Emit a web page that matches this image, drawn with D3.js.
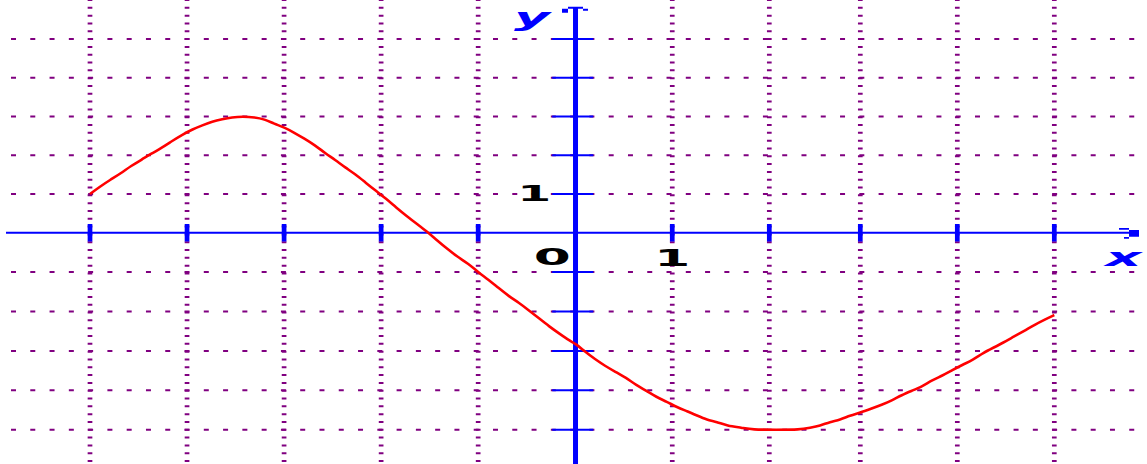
<!DOCTYPE html>
<html>
<head>
<meta charset="utf-8">
<script src="https://cdn.jsdelivr.net/npm/d3@7"></script>
<style>
  html, body { margin: 0; padding: 0; background: #fff; }
  svg { display: block; }
</style>
</head>
<body>
<svg id="chart" width="1147" height="464"></svg>
<script>
// ---- data ----
const gridX = [-5, -4, -3, -2, -1, 1, 2, 3, 4, 5];
const gridY = [-5, -4, -3, -2, -1, 1, 2, 3, 4, 5];
const xTickLabels = ["1"];
const xTickLabelValues = [1];
const yTickLabels = ["1"];
const yTickLabelValues = [1];
const originLabel = "0";
const axisNames = ["x", "y"];

const curveX = [-5.000, -4.897, -4.794, -4.684, -4.574, -4.471, -4.368, -4.261, -4.152, -4.049,
  -3.942, -3.843, -3.740, -3.637, -3.537, -3.428, -3.300, -3.204, -3.101, -2.998,
  -2.895, -2.792, -2.684, -2.575, -2.475, -2.369, -2.266, -2.159, -2.053, -1.950,
  -1.844, -1.741, -1.633, -1.527, -1.421, -1.318, -1.215, -1.105, -0.999, -0.896,
  -0.792, -0.685, -0.579, -0.473, -0.370, -0.267, -0.164, -0.054, 0.000, 0.101,
  0.204, 0.307, 0.413, 0.523, 0.630, 0.733, 0.836, 0.943, 1.049, 1.152,
  1.255, 1.358, 1.461, 1.564, 1.719, 1.822, 2.074, 2.337, 2.447, 2.557,
  2.667, 2.777, 2.887, 2.997, 3.110, 3.221, 3.324, 3.427, 3.533, 3.639,
  3.742, 3.845, 3.948, 4.056, 4.165, 4.268, 4.371, 4.474, 4.581, 4.691,
  4.794, 4.897, 5.000];
const curveY = [1.00, 1.19, 1.36, 1.53, 1.73, 1.88, 2.04, 2.19, 2.37, 2.53,
  2.67, 2.77, 2.87, 2.93, 2.98, 3.00, 2.98, 2.93, 2.81, 2.72,
  2.58, 2.43, 2.26, 2.05, 1.88, 1.68, 1.51, 1.29, 1.08, 0.88,
  0.65, 0.44, 0.23, 0.03, -0.20, -0.41, -0.61, -0.78, -1.00, -1.19,
  -1.40, -1.61, -1.78, -1.98, -2.18, -2.38, -2.56, -2.75, -2.81, -3.02,
  -3.21, -3.38, -3.53, -3.68, -3.87, -4.01, -4.17, -4.29, -4.43, -4.53,
  -4.64, -4.75, -4.80, -4.90, -4.95, -5.00, -5.00, -5.00, -4.95, -4.90,
  -4.80, -4.75, -4.64, -4.57, -4.47, -4.37, -4.26, -4.12, -4.01, -3.90,
  -3.74, -3.63, -3.49, -3.35, -3.22, -3.05, -2.92, -2.79, -2.64, -2.49,
  -2.34, -2.21, -2.09];

// ---- layout ----
const W = 1147, H = 464;
const PURPLE = "#800080", BLUE = "#0000ff", RED = "#ff0000";

const x = d3.scaleLinear().domain([-5, 2, 3, 5]).range([90, 769.3, 860.3, 1054.3]);
const y = d3.scaleLinear().domain([-5, 0, 5]).range([429.7, 232.7, 39]);

const svg = d3.select("#chart");

// vertical dotted grid
svg.append("g").selectAll("line").data(gridX).join("line")
  .attr("x1", d => x(d)).attr("x2", d => x(d))
  .attr("y1", -1).attr("y2", H)
  .attr("stroke", PURPLE).attr("stroke-width", 4.7)
  .attr("stroke-dasharray", "2 5.814");

// horizontal dotted grid
svg.append("g").selectAll("line").data(gridY).join("line")
  .attr("x1", 11).attr("x2", 1140)
  .attr("y1", d => y(d)).attr("y2", d => y(d))
  .attr("stroke", PURPLE).attr("stroke-width", 2)
  .attr("stroke-dasharray", "5 14.28");

const x0 = x(0), y0 = y(0);

// x axis
svg.append("line").attr("x1", 6).attr("x2", 1129).attr("y1", y0).attr("y2", y0)
  .attr("stroke", BLUE).attr("stroke-width", 2);
// x axis arrow
svg.append("path")
  .attr("d", `M1119,${y0-4.7}h10v1.7h-10z M1129,${y0-2.7}h10v6.7h-10z M1124,${y0+4.3}h5v1.7h-5z`)
  .attr("fill", BLUE);
// x ticks
svg.append("g").selectAll("rect").data(gridX).join("rect")
  .attr("x", d => x(d) - 2.35).attr("width", 4.7)
  .attr("y", y0 - 8.7).attr("height", 17.5)
  .attr("fill", BLUE);

// y axis
svg.append("line").attr("x1", x0 + 0.3).attr("x2", x0 + 0.3).attr("y1", 7).attr("y2", H)
  .attr("stroke", BLUE).attr("stroke-width", 5);
svg.append("path")
  .attr("d", `M568,6.7h15v2h-15z M562,8.7h6v4h-6z M583,8.7h5v2h-5z`)
  .attr("fill", BLUE);
// y ticks
svg.append("g").selectAll("line").data(gridY).join("line")
  .attr("x1", x0 - 23).attr("x2", x0 + 18)
  .attr("y1", d => y(d)).attr("y2", d => y(d))
  .attr("stroke", BLUE).attr("stroke-width", 2);

// curve
const pts = curveX.map((v, i) => [v, curveY[i]]);
svg.append("path")
  .datum(pts)
  .attr("d", d3.line().curve(d3.curveBasis).x(d => x(d[0])).y(d => y(d[1])))
  .attr("fill", "none").attr("stroke", RED).attr("stroke-width", 2.6)
  .attr("stroke-linejoin", "round");

// labels
const digitFont = "'DejaVu Sans', sans-serif";
function stretched(txt, cx, base, size, len, color, style) {
  svg.append("text").text(txt)
    .attr("x", cx).attr("y", base)
    .attr("text-anchor", "middle")
    .attr("font-family", digitFont).attr("font-weight", "bold")
    .attr("font-style", style || "normal")
    .attr("font-size", size)
    .attr("textLength", len).attr("lengthAdjust", "spacingAndGlyphs")
    .attr("fill", color);
}
yTickLabels.forEach((t, i) => stretched(t, x0 - 41, y(yTickLabelValues[i]) + 7, 21.5, 34, "#000"));
xTickLabels.forEach((t, i) => stretched(t, x(xTickLabelValues[i]), y0 + 33, 22.5, 36, "#000"));
stretched(originLabel, x0 - 23, y0 + 32.6, 22.5, 37, "#000");
stretched(axisNames[0], 1123.5, y0 + 33.3, 24, 36, BLUE, "italic");
stretched(axisNames[1], 532, 26, 25, 36, BLUE, "italic");
</script>
</body>
</html>
